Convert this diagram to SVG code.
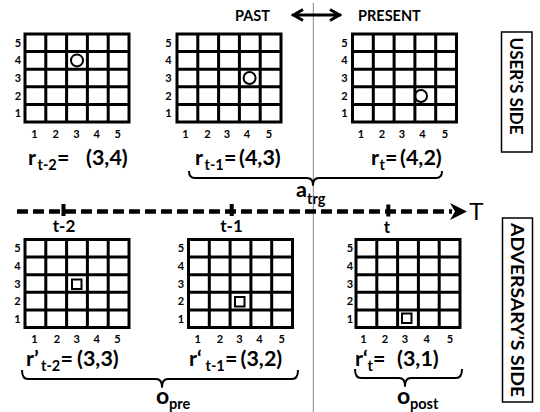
<svg xmlns="http://www.w3.org/2000/svg" xmlns:xlink="http://www.w3.org/1999/xlink" width="540" height="412" viewBox="0 0 540 412">
<style>
text{font-family:Lato,"Liberation Sans",sans-serif;font-weight:bold;fill:#000}
.grid rect{fill:#fff;stroke:#000;stroke-width:3}
.grid path{fill:none;stroke:#000;stroke-width:3}
.num{font-size:11px;text-anchor:middle}
.lbl{font-size:21.5px}
.sub{font-size:14.5px}
.hd{font-size:14.5px}
.tk{font-size:17px;text-anchor:middle}
.side{font-size:16.5px;text-anchor:middle}
.brace{fill:none;stroke:#000;stroke-width:2;stroke-linejoin:round}
.mk{fill:none;stroke:#000;stroke-width:2}
.box{fill:#fff;stroke:#000;stroke-width:1.5}
</style>
<defs>
<g id="grid" class="grid"><rect x="0" y="0" width="104" height="88"/><path d="M20.8,0V88M41.6,0V88M62.4,0V88M83.2,0V88M0,17.6H104M0,35.2H104M0,52.8H104M0,70.4H104"/></g>
</defs>
<rect width="540" height="412" fill="#fff"/>

<g id="connectors">
<line x1="313.3" y1="3" x2="313.3" y2="412" stroke="#888" stroke-width="1"/>
<path d="M292,15H341M303,9.5L293.5,15L303,20.5M330,9.5L339.5,15L330,20.5" fill="none" stroke="#000" stroke-width="3"/>
<line x1="17" y1="211.5" x2="452" y2="211.5" stroke="#000" stroke-width="4.5" stroke-dasharray="11 5"/>
<rect x="61.5" y="204" width="4" height="12"/>
<rect x="229.7" y="204" width="4" height="12"/>
<rect x="386.3" y="204.5" width="4" height="12"/>
<polygon points="450,203 467,211.5 450,220 455,211.5"/>
<path class="brace" d="M189,171Q189,178 195,178H307Q313,178 313,185Q313,178 319,178H436Q442,178 442,171"/>
<path class="brace" d="M22,370Q22,379 28,379H156Q162,379 162,387Q162,379 168,379H292Q298,379 298,370"/>
<path class="brace" d="M355,369Q355,378 361,378H399Q405,378 405,386Q405,378 411,378H456Q462,378 462,369"/>
</g>

<g id="headers">
<text class="hd" x="235" y="21">PAST</text>
<text class="hd" x="358" y="21">PRESENT</text>
</g>

<g id="user-side">
<rect class="box" x="501.5" y="32" width="30.5" height="120"/>
<text class="side" transform="translate(509.5,86) rotate(90)" textLength="97" lengthAdjust="spacingAndGlyphs">USER’S SIDE</text>
</g>
<g id="adversary-side">
<rect class="box" x="502.5" y="218" width="30" height="184"/>
<text class="side" transform="translate(510.5,310) rotate(90)" textLength="174" lengthAdjust="spacingAndGlyphs">ADVERSARY’S SIDE</text>
</g>

<g id="grid-r-t-2">
<use xlink:href="#grid" x="25" y="34"/>
<text class="num" x="18 18 18 18 18" y="46.8 64.4 82 99.6 117.2">54321</text>
<text class="num" x="34.4 55.8 76.4 96.8 117.6" y="137.5">12345</text>
<circle class="mk" cx="77" cy="60.4" r="6"/>
<text class="lbl" y="165"><tspan x="28">r</tspan><tspan class="sub" x="37.5" y="170">t-2</tspan><tspan x="57" y="165">=</tspan><tspan x="86">(3,4)</tspan></text>
</g>

<g id="grid-r-t-1">
<use xlink:href="#grid" x="177" y="34"/>
<text class="num" x="168.5 168.5 168.5 168.5 168.5" y="46.8 64.4 82 99.6 117.2">54321</text>
<text class="num" x="185.5 207.5 227 247 269" y="137.5">12345</text>
<circle class="mk" cx="249.6" cy="78" r="6"/>
<text class="lbl" y="165"><tspan x="195">r</tspan><tspan class="sub" x="204.5" y="170">t-1</tspan><tspan x="224" y="165">=</tspan><tspan x="239">(4,3)</tspan></text>
</g>

<g id="grid-r-t">
<use xlink:href="#grid" x="352.5" y="34"/>
<text class="num" x="344.5 344.5 344.5 344.5 344.5" y="46.8 64.4 82 99.6 117.2">54321</text>
<text class="num" x="361 382 402 422.5 445" y="137.5">12345</text>
<circle class="mk" cx="421" cy="96" r="6"/>
<text class="lbl" y="165"><tspan x="371">r</tspan><tspan class="sub" x="379.5" y="170">t</tspan><tspan x="385" y="165">=</tspan><tspan x="400">(4,2)</tspan></text>
</g>

<g id="atrg">
<text class="lbl" y="197"><tspan x="296">a</tspan><tspan class="sub" x="307" y="204">trg</tspan></text>
</g>

<g id="timeline-labels">
<text class="tk" x="64" y="232">t-2</text>
<text class="tk" x="231.5" y="232">t-1</text>
<text class="tk" x="387" y="233">t</text>
<text x="469" y="220" style="font-family:'Liberation Sans',sans-serif;font-weight:normal;font-size:24px">T</text>
</g>

<g id="grid-rp-t-2">
<use xlink:href="#grid" x="25" y="239.5"/>
<text class="num" x="17.5 17.5 17.5 17.5 17.5" y="252.3 269.9 287.5 305.1 322.7">54321</text>
<text class="num" x="34.4 57 76.6 96.7 117.5" y="343">12345</text>
<rect class="mk" x="72" y="279.5" width="9.5" height="9.5"/>
<text class="lbl" y="366"><tspan x="26">r’</tspan><tspan class="sub" x="41" y="371">t-2</tspan><tspan x="60.5" y="366">=</tspan><tspan x="77">(3,3)</tspan></text>
</g>

<g id="grid-rp-t-1">
<use xlink:href="#grid" x="188.5" y="239.5"/>
<text class="num" x="181 181 181 181 181" y="252.3 269.9 287.5 305.1 322.7">54321</text>
<text class="num" x="197.7 220 239.5 259.5 281.7" y="343">12345</text>
<rect class="mk" x="235" y="297" width="9.5" height="9.5"/>
<text class="lbl" y="366"><tspan x="189">r‘</tspan><tspan class="sub" x="205.5" y="371">t-1</tspan><tspan x="225" y="366">=</tspan><tspan x="240.5">(3,2)</tspan></text>
</g>

<g id="grid-rp-t">
<use xlink:href="#grid" x="356" y="239.5"/>
<text class="num" x="350 350 350 350 350" y="252.3 269.9 287.5 305.1 322.7">54321</text>
<text class="num" x="363.5 385 405 426.7 450" y="343">12345</text>
<rect class="mk" x="402" y="313.5" width="9.5" height="9.5"/>
<text class="lbl" y="366"><tspan x="355">r‘</tspan><tspan class="sub" x="367.5" y="371">t</tspan><tspan x="373" y="366">=</tspan><tspan x="397">(3,1)</tspan></text>
</g>

<g id="opre">
<text class="lbl" y="404" style="font-size:23px"><tspan x="156">o</tspan><tspan class="sub" x="169" y="409">pre</tspan></text>
</g>
<g id="opost">
<text class="lbl" y="404" style="font-size:23px"><tspan x="397">o</tspan><tspan class="sub" x="410" y="409">post</tspan></text>
</g>
</svg>
